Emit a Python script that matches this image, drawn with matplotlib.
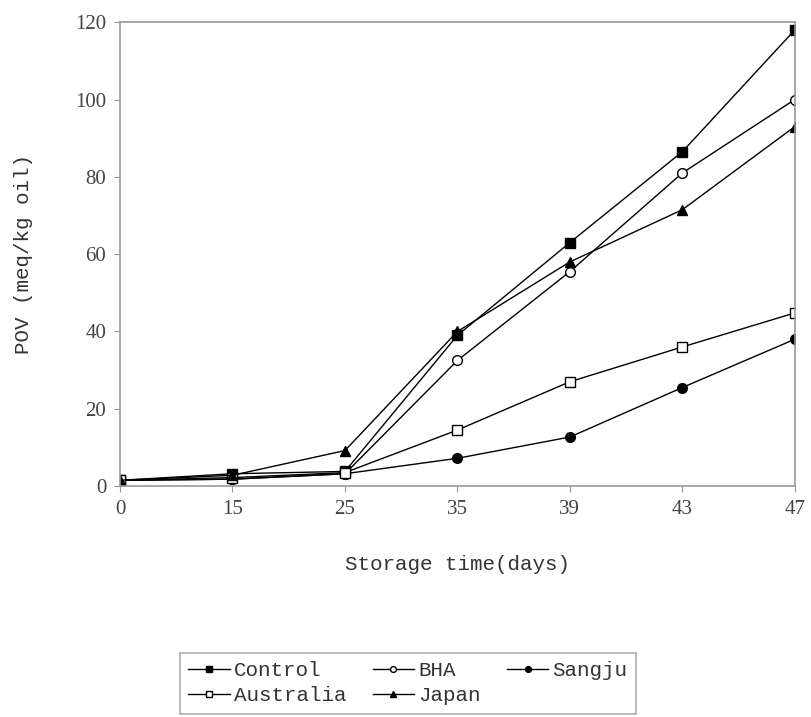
import numpy as np
import matplotlib.pyplot as plt

days = ['0', '15', '25', '35', '39', '43', '47']
control = [1.5, 3.2, 3.8, 39.0, 63.0, 86.5, 118.0]
bha = [1.5, 1.8, 3.2, 32.5, 55.5, 81.0, 100.0]
sangju = [1.5, 1.8, 3.2, 7.2, 12.7, 25.5, 38.0]
australia = [1.5, 2.2, 3.5, 14.5, 27.0, 36.0, 44.8]
japan = [1.5, 2.8, 9.2, 40.0, 58.0, 71.5, 93.0]

mono = 'Liberation Mono'

fig = plt.figure(figsize=(8.11, 7.17), dpi=100)
ax = fig.add_axes([0.148, 0.322, 0.832, 0.647])

x = np.arange(len(days))
kw = dict(color='black', lw=1.0, markersize=7)
h_control, = ax.plot(x, control, marker='s', mfc='black', label='Control', **kw)
h_bha, = ax.plot(x, bha, marker='o', mfc='white', label='BHA', **kw)
h_sangju, = ax.plot(x, sangju, marker='o', mfc='black', label='Sangju', **kw)
h_aus, = ax.plot(x, australia, marker='s', mfc='white', label='Australia', **kw)
h_japan, = ax.plot(x, japan, marker='^', mfc='black', label='Japan', **kw)

ax.set_xlim(0, len(days) - 1)
ax.set_ylim(0, 120)
ax.set_xticks(x)
ax.set_xticklabels(days)
ax.set_yticks(np.arange(0, 121, 20))
for lbl in ax.get_xticklabels() + ax.get_yticklabels():
    lbl.set_fontfamily('Liberation Serif')
    lbl.set_fontsize(15)
    lbl.set_color('#444444')
ax.tick_params(length=4, color='#999999', pad=6)
for s in ax.spines.values():
    s.set_color('#999999')
    s.set_linewidth(1.2)

ax.set_xlabel('Storage time(days)', fontfamily=mono, fontsize=15, color='#333333', labelpad=26)
ax.set_ylabel('POV (meq/kg oil)', fontfamily=mono, fontsize=15, color='#333333', labelpad=30)

# row-wise order: Control, BHA, Sangju / Australia, Japan
handles = [h_control, h_aus, h_bha, h_japan, h_sangju]
leg = fig.legend(handles, [h.get_label() for h in handles],
                 loc='lower left', bbox_to_anchor=(0.209, -0.01, 0.588, 0.095),
                 mode='expand', ncol=3, frameon=True, fancybox=False,
                 prop={'family': mono, 'size': 15}, markerscale=0.6,
                 handlelength=2.0, handletextpad=0.2, borderpad=0.4,
                 labelspacing=0.3, columnspacing=1.0)
leg.get_frame().set_edgecolor('#999999')
leg.get_frame().set_linewidth(1.2)
for t in leg.get_texts():
    t.set_color('#333333')

fig.savefig('out.png', dpi=100)
